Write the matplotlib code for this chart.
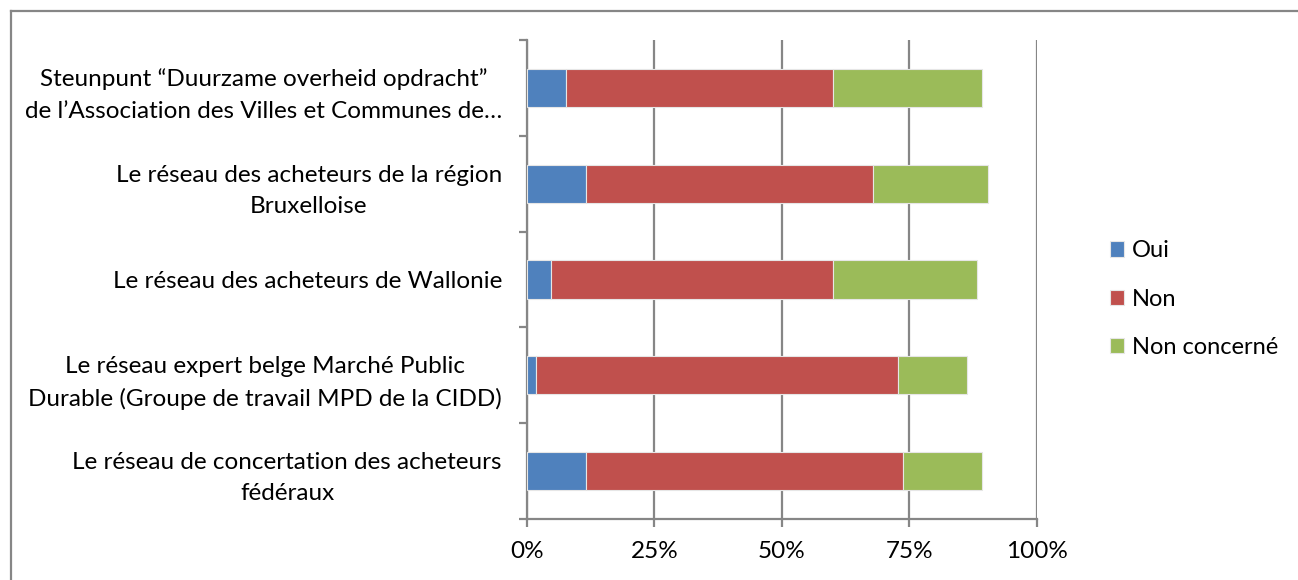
import matplotlib.pyplot as plt
import numpy as np
from matplotlib.lines import Line2D

# categories top -> bottom
categories = [
    "Steunpunt \u201cDuurzame overheid opdracht\u201d\nde l\u2019Association des Villes et Communes de\u2026",
    "Le r\u00e9seau des acheteurs de la r\u00e9gion\nBruxelloise",
    "Le r\u00e9seau des acheteurs de Wallonie",
    "Le r\u00e9seau expert belge March\u00e9 Public\nDurable (Groupe de travail MPD de la CIDD)",
    "Le r\u00e9seau de concertation des acheteurs\nf\u00e9d\u00e9raux",
]
series_names = ["Oui", "Non", "Non concern\u00e9"]
oui = [7.7, 11.6, 4.7, 1.8, 11.6]
non = [52.4, 56.3, 55.4, 71.0, 62.2]
non_concerne = [29.2, 22.5, 28.3, 13.6, 15.5]
xticks = [0, 25, 50, 75, 100]
xtick_labels = ["0%", "25%", "50%", "75%", "100%"]

colors = ["#4F81BD", "#C0504D", "#9BBB59"]
grid_c = "#868686"
fs = 17.5

plt.rcParams['font.family'] = ['Lato', 'DejaVu Sans']

W, H = 1298, 580
fig = plt.figure(figsize=(W / 100, H / 100), dpi=100)
ax = fig.add_axes([527 / W, 1 - 519 / H, (1036.5 - 527) / W, (519 - 40) / H])

n = len(categories)
y = np.arange(n)[::-1]
left = np.zeros(n)
for vals, name, c in zip([oui, non, non_concerne], series_names, colors):
    vals = np.array(vals)
    ax.barh(y, vals, left=left, height=0.4, color=c, edgecolor="#e6e6e6",
            linewidth=0.8, label=name, zorder=3)
    left = left + vals

ax.set_xlim(0, 100)
ax.set_ylim(-0.5, n - 0.5)
ax.set_xticks(xticks)
ax.set_xticklabels(xtick_labels, fontsize=fs)
ax.xaxis.grid(True, color=grid_c, linewidth=1.6, zorder=0)

ax.set_yticks(y)
ax.set_yticklabels(categories, fontsize=fs)
for lab in ax.get_yticklabels():
    lab.set_multialignment('center')
    lab.set_linespacing(1.6)
ax.set_yticks(np.arange(-0.5, n, 1.0), minor=True)
ax.tick_params(axis='y', which='major', length=0, pad=18)
ax.tick_params(axis='y', which='minor', length=6, width=1.6, color=grid_c, direction='out')
ax.tick_params(axis='x', length=6, width=1.6, color=grid_c, direction='out', pad=10)

for s in ['top', 'right']:
    ax.spines[s].set_visible(False)
for s in ['left', 'bottom']:
    ax.spines[s].set_color(grid_c)
    ax.spines[s].set_linewidth(1.6)

fig.legend(loc='center left', bbox_to_anchor=(1098 / W, 1 - 299 / H), frameon=False,
           fontsize=17, handlelength=0.62, handleheight=0.62, handletextpad=0.3,
           labelspacing=1.15, borderpad=0)

# outer chart border (only top and left visible)
fig.add_artist(Line2D([11 / W, 11 / W], [0, 1 - 11 / H], color=grid_c, lw=1.6))
fig.add_artist(Line2D([11 / W, 1], [1 - 11 / H, 1 - 11 / H], color=grid_c, lw=1.6))

fig.savefig("out.png", dpi=100)
